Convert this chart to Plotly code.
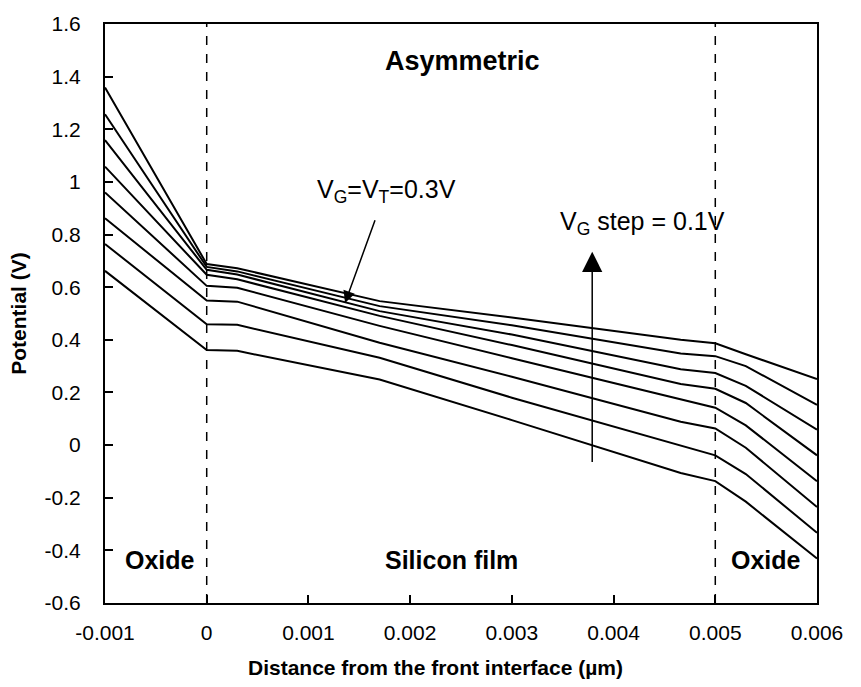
import plotly.graph_objects as go

# x positions (µm)
x_pts = [-0.001, 0.0, 0.0003, 0.0017, 0.003, 0.00466, 0.005, 0.0053, 0.006]

# Potential (V) for each gate-voltage curve, top to bottom
curves = [
    [1.359, 0.688, 0.672, 0.547, 0.485, 0.400, 0.387, 0.345, 0.251],
    [1.257, 0.677, 0.660, 0.528, 0.455, 0.348, 0.338, 0.300, 0.153],
    [1.159, 0.666, 0.648, 0.509, 0.420, 0.288, 0.274, 0.225, 0.059],
    [1.058, 0.647, 0.630, 0.491, 0.380, 0.232, 0.214, 0.160, -0.039],
    [0.960, 0.605, 0.598, 0.453, 0.330, 0.172, 0.142, 0.075, -0.137],
    [0.862, 0.549, 0.545, 0.389, 0.260, 0.089, 0.063, -0.010, -0.235],
    [0.764, 0.459, 0.457, 0.332, 0.180, -0.001, -0.039, -0.110, -0.333],
    [0.662, 0.361, 0.358, 0.249, 0.095, -0.106, -0.137, -0.215, -0.431],
]

x_ticks = [-0.001, 0, 0.001, 0.002, 0.003, 0.004, 0.005, 0.006]
x_tick_text = ["-0.001", "0", "0.001", "0.002", "0.003", "0.004", "0.005", "0.006"]
y_ticks = [-0.6, -0.4, -0.2, 0, 0.2, 0.4, 0.6, 0.8, 1.0, 1.2, 1.4, 1.6]
y_tick_text = ["-0.6", "-0.4", "-0.2", "0", "0.2", "0.4", "0.6", "0.8", "1", "1.2", "1.4", "1.6"]
interfaces = [0.0, 0.005]

FONT = "Liberation Sans, Arial, sans-serif"

fig = go.Figure()
for c in curves:
    fig.add_trace(go.Scatter(x=x_pts, y=c, mode="lines",
                             line=dict(color="black", width=2),
                             showlegend=False, hoverinfo="skip"))

for xi in interfaces:
    fig.add_shape(type="line", x0=xi, x1=xi, y0=-0.6, y1=1.6, xref="x", yref="y",
                  line=dict(color="black", width=1.5, dash="dash"))

fig.add_annotation(x=0.00251, y=1.46, text="<b>Asymmetric</b>", showarrow=False,
                   font=dict(size=27, family=FONT, color="black"))
fig.add_annotation(x=-0.00046, y=-0.435, text="<b>Oxide</b>", showarrow=False,
                   font=dict(size=25, family=FONT, color="black"))
fig.add_annotation(x=0.00241, y=-0.435, text="<b>Silicon film</b>", showarrow=False,
                   font=dict(size=25, family=FONT, color="black"))
fig.add_annotation(x=0.0055, y=-0.435, text="<b>Oxide</b>", showarrow=False,
                   font=dict(size=25, family=FONT, color="black"))

fig.add_annotation(x=0.00177, y=0.965, text="V<sub>G</sub>=V<sub>T</sub>=0.3V",
                   showarrow=False, font=dict(size=25, family=FONT, color="black"))
fig.add_annotation(x=0.00136, y=0.54, ax=0.00166, ay=0.86, axref="x", ayref="y",
                   xref="x", yref="y", text="", showarrow=True,
                   arrowhead=2, arrowsize=1.6, arrowwidth=1.5, arrowcolor="black")

fig.add_annotation(x=0.00428, y=0.845, text="V<sub>G</sub> step = 0.1V",
                   showarrow=False, font=dict(size=25, family=FONT, color="black"))
fig.add_annotation(x=0.00379, y=0.735, ax=0.00379, ay=-0.07, axref="x", ayref="y",
                   xref="x", yref="y", text="", showarrow=True,
                   arrowhead=2, arrowsize=2.7, arrowwidth=1.5, arrowcolor="black")

# x-axis title (centred on the figure as in the reference)
fig.add_annotation(x=0.4635, y=-0.112, xref="paper", yref="paper",
                   text="<b>Distance from the front interface (µm)</b>",
                   showarrow=False, yanchor="middle",
                   font=dict(size=21, family=FONT, color="black"))

fig.update_layout(
    width=861, height=687,
    margin=dict(l=105, r=44, t=18, b=84),
    paper_bgcolor="white", plot_bgcolor="white",
    font=dict(family=FONT, size=21, color="black"),
    xaxis=dict(range=[-0.001, 0.006], tickvals=x_ticks, ticktext=x_tick_text,
               showgrid=False, zeroline=False, showline=True, linecolor="black",
               linewidth=2, mirror=True, ticks="inside", ticklen=8, tickwidth=1.5,
               tickcolor="black", ticklabelstandoff=10),
    yaxis=dict(range=[-0.6, 1.6], tickvals=y_ticks, ticktext=y_tick_text,
               showgrid=False, zeroline=False, showline=True, linecolor="black",
               linewidth=2, mirror=True, ticks="inside", ticklen=8, tickwidth=1.5,
               tickcolor="black", ticklabelstandoff=18,
               title=dict(text="<b>Potential (V)</b>", font=dict(size=21), standoff=12)),
)

fig.write_html("out.html")
